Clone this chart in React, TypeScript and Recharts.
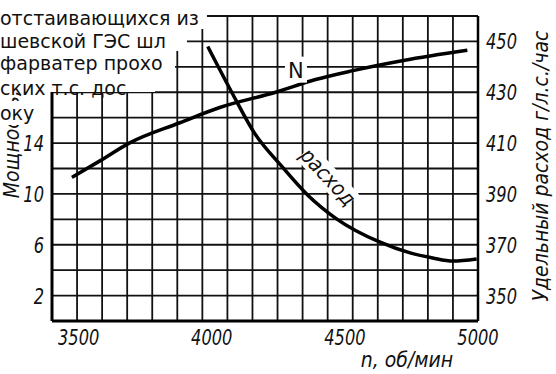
import React from 'react'
import { LineChart, Line, XAxis, YAxis, CartesianGrid, ReferenceDot } from 'recharts'

// engine speed, rpm
const rpmTicks = [3500, 4000, 4500, 5000]
// power N, h.p. (left axis)
const powerTicks = [2, 6, 10, 14]
// specific consumption, g/h.p./h (right axis)
const rateTicks = [350, 370, 390, 410, 430, 450]

const powerRpm = [3475, 3580, 3690, 3880, 4030, 4240, 4390, 4530, 4720, 4960]
const powerValues = [11.3, 12.6, 14.0, 15.6, 16.8, 18.0, 19.0, 19.7, 20.5, 21.3]

const rateRpm = [3985, 4070, 4160, 4265, 4360, 4470, 4630, 4745, 4830, 4905, 4995]
const rateValues = [448, 431, 414, 400.6, 389.6, 380.1, 371.1, 366.8, 364.8, 363.6, 364.4]

const pageLines = ['отстаивающихся из', 'шевской ГЭС шл', 'фарватер прохо', 'ских т.с. дос', 'оку']

const powerData = powerRpm.map((rpm, i) => ({ rpm, value: powerValues[i] }))
const rateData = rateRpm.map((rpm, i) => ({ rpm, value: rateValues[i] }))

// graph paper: 17 columns by 12 rows
const COLS = 17
const ROWS = 12

const narrow = "'DejaVu Sans Condensed', 'DejaVu Sans', sans-serif"

const Tick = ({ x, y, payload, anchor }: any) => (
  <g transform={`translate(${x},${y})`}>
    <text
      transform="scale(0.82,1)"
      textAnchor={anchor}
      dy={anchor === 'middle' ? 16 : 8}
      fontFamily={narrow}
      fontStyle="italic"
      fontSize={22}
      fill="#111"
    >
      {payload.value}
    </text>
  </g>
)

const NLabel = ({ viewBox }: any) => {
  const { x, y } = viewBox
  return (
    <g>
      <rect x={x - 11} y={y - 13} width={22} height={26} fill="#fff" />
      <text x={x} y={y + 8} textAnchor="middle" fontFamily="'DejaVu Sans', sans-serif" fontSize={21} fill="#111">
        N
      </text>
    </g>
  )
}

const RateLabel = ({ viewBox }: any) => {
  const { x, y } = viewBox
  return (
    <g transform={`translate(${x},${y}) rotate(47)`}>
      <rect x={-34} y={-12} width={68} height={22} fill="#fff" />
      <text x={0} y={6} textAnchor="middle" fontFamily={narrow} fontStyle="italic" fontSize={21} fill="#111">
        расход
      </text>
    </g>
  )
}

// white patches of the facing page text: top, height, width
const patchTop = [0, 29, 51, 76, 101]
const patchHeight = [29, 22, 25, 16, 24]
const patchWidth = [207, 187, 175, 155, 42]

export default function App() {
  return (
    <div style={{ position: 'absolute', left: 0, top: 0, width: 556, height: 374, background: '#fff' }}>
      <LineChart width={556} height={374} data={powerData} margin={{ top: 16, right: 38, left: 12, bottom: 23 }}>
        <CartesianGrid
          xAxisId="rpm"
          yAxisId="left"
          stroke="#111"
          strokeWidth={1.8}
          verticalCoordinatesGenerator={({ offset }: any) =>
            Array.from({ length: COLS + 1 }, (_, i) => offset.left + (i * offset.width) / COLS)
          }
          horizontalCoordinatesGenerator={({ offset }: any) =>
            Array.from({ length: ROWS + 1 }, (_, i) => offset.top + (i * offset.height) / ROWS)
          }
        />
        <XAxis
          xAxisId="rpm"
          dataKey="rpm"
          type="number"
          domain={[3400, 5000]}
          ticks={rpmTicks}
          height={30}
          tickLine={false}
          axisLine={{ stroke: '#000', strokeWidth: 3 }}
          tick={<Tick anchor="middle" />}
          allowDataOverflow
        />
        <YAxis
          yAxisId="left"
          type="number"
          domain={[0, 24]}
          ticks={powerTicks}
          width={40}
          tickLine={false}
          axisLine={{ stroke: '#000', strokeWidth: 3 }}
          tick={<Tick anchor="end" />}
        />
        <YAxis
          yAxisId="right"
          orientation="right"
          type="number"
          domain={[340, 460]}
          ticks={rateTicks}
          width={40}
          tickLine={false}
          axisLine={{ stroke: '#000', strokeWidth: 2.5 }}
          tick={<Tick anchor="start" />}
        />
        <Line
          xAxisId="rpm"
          yAxisId="left"
          data={powerData}
          dataKey="value"
          type="monotone"
          stroke="#000"
          strokeWidth={3.5}
          dot={false}
          isAnimationActive={false}
        />
        <Line
          xAxisId="rpm"
          yAxisId="right"
          data={rateData}
          dataKey="value"
          type="monotone"
          stroke="#000"
          strokeWidth={3.5}
          dot={false}
          isAnimationActive={false}
        />
        <ReferenceDot xAxisId="rpm" yAxisId="left" x={4320} y={19.7} r={1} fill="none" stroke="none" label={<NLabel />} ifOverflow="visible" />
        <ReferenceDot xAxisId="rpm" yAxisId="right" x={4437} y={396} r={1} fill="none" stroke="none" label={<RateLabel />} ifOverflow="visible" />
      </LineChart>

      <div
        style={{
          position: 'absolute', left: 12, top: 124, transform: 'translate(-50%,-50%) rotate(-90deg)',
          whiteSpace: 'nowrap', fontFamily: narrow, fontStyle: 'italic', fontSize: 21, color: '#111',
        }}
      >
        Мощность, л.с.
      </div>
      <div
        style={{
          position: 'absolute', left: 541, top: 166, transform: 'translate(-50%,-50%) rotate(-90deg)',
          whiteSpace: 'nowrap', fontFamily: narrow, fontStyle: 'italic', fontSize: 21, color: '#111',
        }}
      >
        Удельный расход г/л.с./час
      </div>
      <div
        style={{
          position: 'absolute', left: 407, top: 360, transform: 'translate(-50%,-50%)',
          whiteSpace: 'nowrap', fontFamily: narrow, fontStyle: 'italic', fontSize: 21, color: '#111',
        }}
      >
        n, об/мин
      </div>

      {/* text from the facing page that shows over the top-left of the graph */}
      {pageLines.map((line, i) => (
        <div
          key={i}
          style={{
            position: 'absolute', left: 0, top: patchTop[i], height: patchHeight[i],
            width: patchWidth[i], overflow: 'visible', background: '#fff',
            fontFamily: "'DejaVu Sans', sans-serif", fontSize: 19, lineHeight: '24px', color: '#111',
            whiteSpace: 'nowrap', paddingTop: i === 0 ? 6 : 0, boxSizing: 'border-box',
          }}
        >
          {line}
        </div>
      ))}
    </div>
  )
}
